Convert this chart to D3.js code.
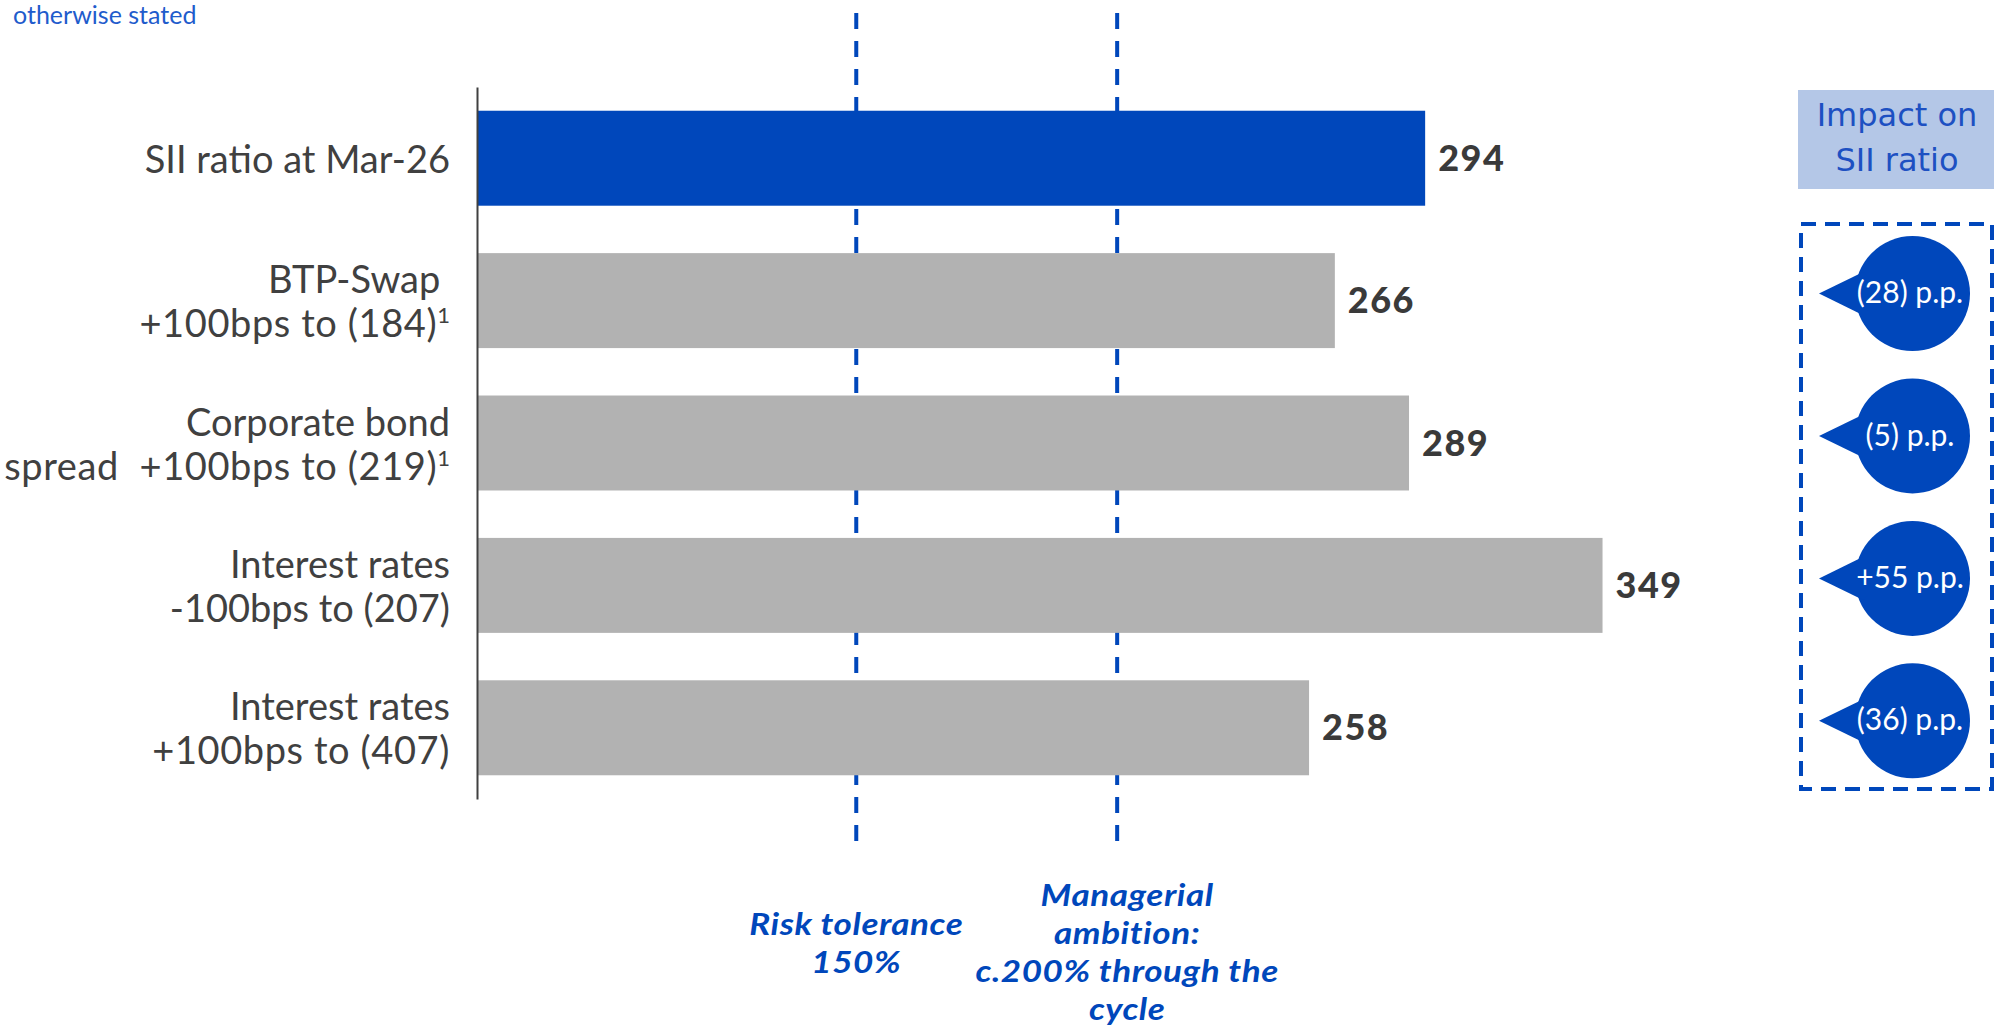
<!DOCTYPE html>
<html>
<head>
<meta charset="utf-8">
<script src="https://cdn.jsdelivr.net/npm/d3@7"></script>
<style>
  html, body { margin: 0; padding: 0; background: #fff; }
  svg { display: block; }
  text { white-space: pre; }
</style>
</head>
<body>
<svg id="chart" width="1994" height="1028"></svg>
<script>
// ---- data ----
const categories = ["SII ratio at Mar-26", "BTP-Swap", "Corporate bond", "Interest rates -", "Interest rates +"];
const labelLines = [
  ["SII ratio at Mar-26"],
  ["BTP-Swap ", "+100bps to (184)|1"],
  ["Corporate bond", "spread  +100bps to (219)|1"],
  ["Interest rates", "-100bps to (207)"],
  ["Interest rates", "+100bps to (407)"]
];
const values = [294, 266, 289, 349, 258];
const impacts = [null, -28, -5, 55, -36];
const refLinePos = [117.6, 198.5];
const refLabels = [["Risk tolerance", "150%"], ["Managerial", "ambition:", "c.200% through the", "cycle"]];
const headerLines = ["Impact on", "SII ratio"];
const noteText = "otherwise stated";

// ---- styles ----
const BLUE = "#0047bb";
const GREY = "#b2b2b2";
const svg = d3.select("#chart");

const x = d3.scaleLinear().domain([0, 350]).range([477, 477 + 350 * 3.225]);
const y = d3.scaleBand().domain(categories).range([87, 799]).paddingInner(0.333).paddingOuter(0.1667);

// note at top-left
svg.append("text").attr("x", 13).attr("y", 24)
  .attr("font-family", "Lato").attr("font-size", 25).attr("fill", "#1f5ccc")
  .text(noteText);

// reference dashed lines
svg.selectAll("line.ref").data(refLinePos).join("line")
  .attr("class", "ref")
  .attr("x1", d => x(d)).attr("x2", d => x(d))
  .attr("y1", 13).attr("y2", 841)
  .attr("stroke", BLUE).attr("stroke-width", 4)
  .attr("stroke-dasharray", "16 12");

// bars
svg.selectAll("rect.bar").data(values).join("rect")
  .attr("class", "bar")
  .attr("x", x(0))
  .attr("y", (d, i) => y(categories[i]))
  .attr("width", d => x(d) - x(0))
  .attr("height", y.bandwidth())
  .attr("fill", (d, i) => i === 0 ? BLUE : GREY);

// axis line
const axis = d3.axisLeft(y).tickSize(0).tickSizeOuter(0).tickFormat("");
const gAxis = svg.append("g").attr("transform", `translate(${x(0)},0)`).call(axis);
gAxis.select(".domain").attr("stroke", "#404040").attr("stroke-width", 2);

// value labels
svg.selectAll("text.val").data(values).join("text")
  .attr("class", "val")
  .attr("x", d => x(d) + 13)
  .attr("y", (d, i) => y(categories[i]) + y.bandwidth() / 2 + 12.5)
  .attr("font-family", "Lato").attr("font-weight", 900).attr("font-size", 36)
  .attr("letter-spacing", 1.5)
  .attr("fill", "#3a3a3a")
  .text(d => d);

// category labels (one text element per category, lines as tspans)
labelLines.forEach((lines, i) => {
  const cy = y(categories[i]) + y.bandwidth() / 2;
  const base = lines.length === 1 ? cy + 14.5 : cy - 7.5;
  const t = svg.append("text")
    .attr("text-anchor", "end")
    .attr("font-family", "Lato").attr("font-size", 38)
    .attr("fill", "#404040");
  lines.forEach((ln, j) => {
    const parts = ln.split("|");
    t.append("tspan").attr("x", 450).attr("y", base + j * 44)
      .attr("letter-spacing", ln.indexOf("+100") >= 0 ? 0.6 : 0)
      .text(parts[0]);
    if (parts[1]) {
      t.append("tspan").attr("font-size", 22).attr("dy", -14).text(parts[1]);
    }
  });
});

// bottom labels for ref lines
refLabels.forEach((lines, i) => {
  const cx = x(refLinePos[i]) + (i === 0 ? 0 : 10);
  const base = i === 0 ? 935 : 906;
  const g = svg.append("g").attr("transform", `translate(${cx},0) scale(1.13,1)`);
  lines.forEach((ln, j) => {
    g.append("text")
      .attr("x", 0).attr("y", base + j * 38)
      .attr("text-anchor", "middle")
      .attr("font-family", "Lato").attr("font-weight", 700).attr("font-style", "italic")
      .attr("font-size", 31).attr("letter-spacing", 0.5)
      .attr("fill", BLUE)
      .text(ln);
  });
});

// right panel header
svg.append("rect").attr("x", 1798).attr("y", 90).attr("width", 196).attr("height", 99).attr("fill", "#b4c7e7");
const ht = svg.append("text")
  .attr("text-anchor", "middle")
  .attr("font-family", "DejaVu Sans").attr("font-size", 32)
  .attr("fill", "#1d50c2");
headerLines.forEach((ln, j) => {
  ht.append("tspan").attr("x", 1897).attr("y", 126 + j * 45).text(ln);
});

// dashed box
svg.append("rect").attr("x", 1801).attr("y", 224).attr("width", 191).attr("height", 565)
  .attr("fill", "none").attr("stroke", BLUE).attr("stroke-width", 4).attr("stroke-dasharray", "15 9");

// bubbles
const fmtImpact = v => v < 0 ? `(${-v}) p.p.` : `+${v} p.p.`;
const bubbleData = impacts.map((v, i) => ({ v, cat: categories[i] })).filter(d => d.v !== null);
const bcx = 1912.5, br = 57.5, tipX = 1819;
const bubble = svg.selectAll("g.bubble").data(bubbleData).join("g")
  .attr("class", "bubble")
  .attr("transform", d => `translate(0,${y(d.cat) + y.bandwidth() / 2 - 7})`);
bubble.append("circle").attr("cx", bcx).attr("cy", 0).attr("r", br).attr("fill", BLUE);
bubble.append("path")
  .attr("d", () => {
    const a = 22 * Math.PI / 180;
    const px = bcx - br * Math.cos(a) + 4, py = br * Math.sin(a);
    return `M${tipX},0 L${px},${-py} L${px + 20},0 L${px},${py} Z`;
  })
  .attr("fill", BLUE);
bubble.append("text").attr("x", 1910).attr("y", 9.5)
  .attr("text-anchor", "middle")
  .attr("font-family", "Lato").attr("font-size", 30).attr("fill", "#fff")
  .text(d => fmtImpact(d.v));
</script>
</body>
</html>
